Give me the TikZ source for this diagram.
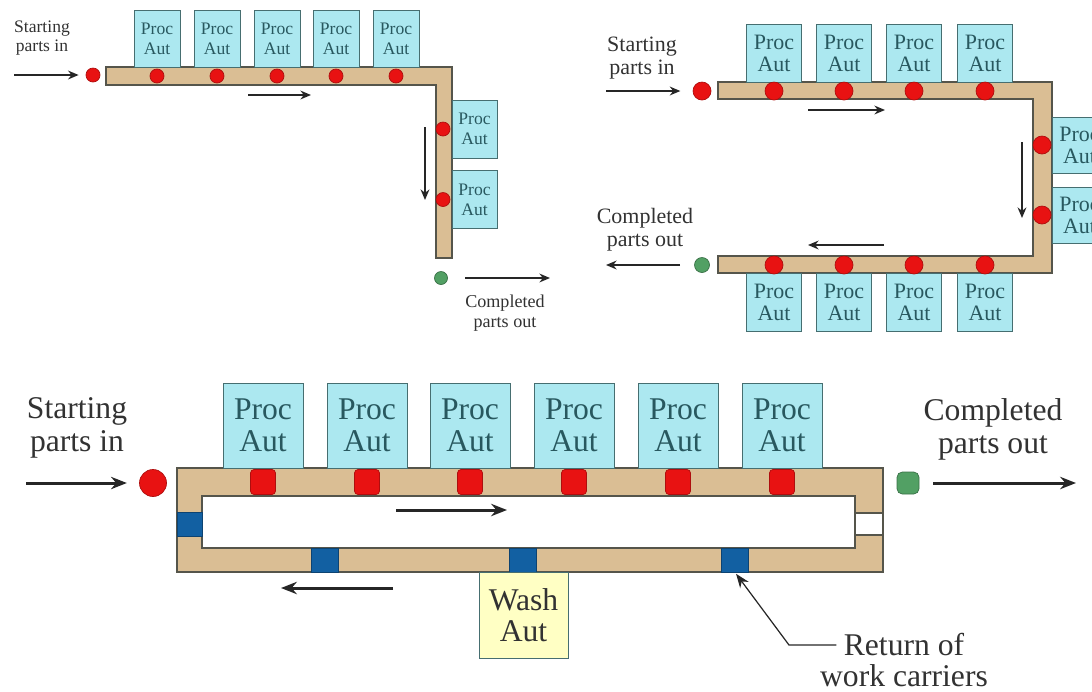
\documentclass[tikz,border=0pt]{standalone}
\usepackage{fontspec}
\setmainfont{Liberation Serif}
\usetikzlibrary{arrows.meta}
\definecolor{boxcyan}{RGB}{172,232,240}
\definecolor{boxline}{RGB}{70,110,112}
\definecolor{boxtext}{RGB}{40,88,95}
\definecolor{beltfill}{RGB}{218,190,148}
\definecolor{beltline}{RGB}{85,85,75}
\definecolor{partred}{RGB}{232,18,18}
\definecolor{partgreen}{RGB}{82,160,100}
\definecolor{carrierblue}{RGB}{18,96,162}
\definecolor{washyellow}{RGB}{255,255,196}
\definecolor{lblgray}{RGB}{50,50,50}
\tikzset{
  procbox/.style={draw=boxline, fill=boxcyan, text=boxtext, align=center, inner sep=0pt},
  procS/.style={procbox, minimum width=0.92cm, minimum height=1.14cm, font=\fontsize{10}{11.5}\selectfont},
  procM/.style={procbox, minimum width=1.1cm, minimum height=1.16cm, font=\fontsize{12.5}{12.5}\selectfont},
  procL/.style={procbox, minimum width=1.6cm, minimum height=1.7cm, font=\fontsize{18}{18}\selectfont},
  belt/.style={draw=beltline, fill=beltfill, line width=0.6pt},
  part/.style={circle, fill=partred, draw=partred!75!black, inner sep=0pt},
  done/.style={circle, fill=partgreen, draw=partgreen!70!black, inner sep=0pt},
  carrier/.style={rectangle, fill=carrierblue, draw=carrierblue!70!black, inner sep=0pt},
  lbl/.style={align=center, text=lblgray, inner sep=0pt},
  flow/.style={-{Stealth[length=9pt,width=7pt]}, line width=1.7pt, black!85},
  flowS/.style={-{Stealth[length=6pt,width=5pt]}, line width=1.1pt, black!85}
}
\begin{document}
\begin{tikzpicture}[x=0.02cm, y=-0.02cm]
  \useasboundingbox (0,0) rectangle (1092,691);
  % top left: L-shaped line
  \draw[belt] (106,67) -- (452,67) -- (452,258) -- (436,258) -- (436,85) -- (106,85) -- cycle;
  \foreach \x [count=\i] in {157,217,277,336,396} {
    \node[procS] (tlp\i) at (\x,38.5) {Proc\\Aut};
    \node[part, minimum size=0.28cm] (tld\i) at (\x,76) {};
  }
  \foreach \y [count=\i] in {129,199.5} {
    \node[procS, minimum width=0.9cm, minimum height=1.16cm] (tlr\i) at (474.5,\y) {Proc\\Aut};
    \node[part, minimum size=0.28cm] (tlrd\i) at (443,\y) {};
  }
  \node[part, minimum size=0.28cm] (tlin) at (93,75) {};
  \node[done, minimum size=0.26cm] (tlout) at (441,278) {};
  \node[lbl, font=\fontsize{10}{11.3}\selectfont] (tlstart) at (42,38) {Starting\\parts in};
  \node[lbl, font=\fontsize{10.3}{11.3}\selectfont] (tlend) at (505,313) {Completed\\parts out};
  \coordinate (tlsrc) at (14,75);
  \coordinate (tldst) at (550,278);
  \draw[flowS, shorten >=4pt] (tlsrc) -- (tlin);
  \draw[flowS, shorten <=10pt] (tlout) -- (tldst);
  \draw[flowS] (248,95) -- (311,95);
  \draw[flowS] (425,127) -- (425,200);
  % top right: U-shaped line
  \draw[belt] (718,82) -- (1052,82) -- (1052,273) -- (718,273) -- (718,256) -- (1033,256) -- (1033,99) -- (718,99) -- cycle;
  \foreach \x [count=\i] in {774,844,914,985} {
    \node[procM] (trp\i) at (\x,53) {Proc\\Aut};
    \node[procM] (trq\i) at (\x,302) {Proc\\Aut};
    \node[part, minimum size=0.36cm] (trd\i) at (\x,91) {};
    \node[part, minimum size=0.36cm] (tre\i) at (\x,265) {};
  }
  \foreach \y [count=\i] in {145,215} {
    \node[procM, minimum height=1.12cm] (trr\i) at (1079.5,\y) {Proc\\Aut};
    \node[part, minimum size=0.36cm] (trrd\i) at (1042,\y) {};
  }
  \node[part, minimum size=0.36cm] (trin) at (702,91) {};
  \node[done, minimum size=0.3cm] (trout) at (702,265) {};
  \node[lbl, font=\fontsize{12.5}{13}\selectfont] (trstart) at (642,58) {Starting\\parts in};
  \node[lbl, font=\fontsize{12.5}{13}\selectfont] (trend) at (645,230) {Completed\\parts out};
  \coordinate (trsrc) at (606,91);
  \coordinate (trdst) at (606,265);
  \draw[flowS, shorten >=7pt] (trsrc) -- (trin);
  \draw[flowS, shorten <=8pt] (trout) -- (trdst);
  \draw[flowS] (808,110) -- (885,110);
  \draw[flowS] (1022,142) -- (1022,218);
  \draw[flowS] (884,245) -- (808,245);
  % bottom: closed loop with carrier return
  \draw[belt] (177,468) rectangle (883,572);
  \draw[draw=beltline, fill=white, line width=0.6pt] (202,496) rectangle (855,548);
  \draw[draw=beltline, fill=white, line width=0.6pt] (855,513) rectangle (883,535);
  \node[carrier, minimum width=0.5cm, minimum height=0.48cm] (bc0) at (189.5,524) {};
  \foreach \x [count=\i] in {325,523,735}
    \node[carrier, minimum width=0.54cm, minimum height=0.48cm] (bc\i) at (\x,560) {};
  \foreach \x [count=\i] in {263,367,470,574,678,782} {
    \node[procL] (bp\i) at (\x,425.5) {Proc\\Aut};
    \node[part, rectangle, rounded corners=2pt, minimum size=0.5cm] (bd\i) at (\x,482) {};
  }
  \node[procL, fill=washyellow, text=lblgray, minimum width=1.78cm, minimum height=1.72cm] (wash) at (523.5,615) {Wash\\Aut};
  \node[part, minimum width=0.5cm, minimum height=0.54cm] (bin) at (153,483) {};
  \node[done, rounded corners=3pt, rectangle, minimum size=0.44cm] (bout) at (908,483) {};
  \node[lbl, font=\fontsize{18}{18.7}\selectfont] (bstart) at (77,428) {Starting\\parts in};
  \node[lbl, font=\fontsize{18}{18.7}\selectfont] (bend) at (993,429) {Completed\\parts out};
  \node[lbl, font=\fontsize{18}{18}\selectfont] (ret1) at (904,645) {Return of};
  \node[lbl, font=\fontsize{18}{18}\selectfont] (ret2) at (904,676) {work carriers};
  \coordinate (bsrc) at (26,483);
  \coordinate (bdst) at (1076,483);
  \coordinate (retknee) at (789,645);
  \draw[flow, shorten >=7pt] (bsrc) -- (bin);
  \draw[flow, shorten <=8pt] (bout) -- (bdst);
  \draw[flow] (396,510) -- (507,510);
  \draw[flow] (393,588) -- (281,588);
  \draw[-{Stealth[length=8pt,width=6pt]}, line width=0.7pt, black!85, shorten <=4pt, shorten >=1pt] (ret1.west) -- (retknee) -- (bc3.south);
\end{tikzpicture}
\end{document}
